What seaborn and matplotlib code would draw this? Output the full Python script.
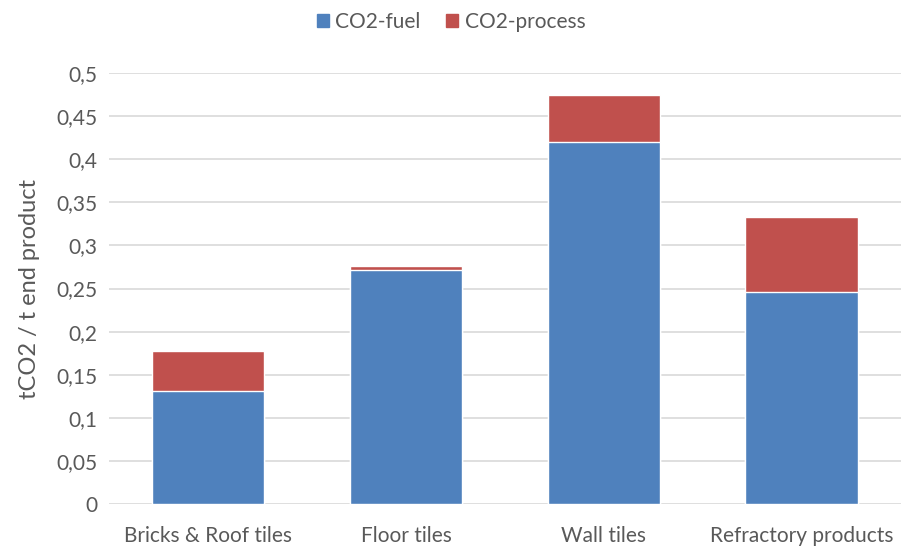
import matplotlib
matplotlib.use("Agg")
import matplotlib.pyplot as plt
import seaborn as sns
import numpy as np
import pandas as pd
from matplotlib.patches import Patch

categories = ["Bricks & Roof tiles", "Floor tiles", "Wall tiles", "Refractory products"]
co2_fuel = [0.131, 0.271, 0.420, 0.246]
co2_process = [0.047, 0.005, 0.054, 0.087]
y_ticks = [0, 0.05, 0.1, 0.15, 0.2, 0.25, 0.3, 0.35, 0.4, 0.45, 0.5]
y_tick_labels = ["0", "0,05", "0,1", "0,15", "0,2", "0,25", "0,3", "0,35", "0,4", "0,45", "0,5"]

BLUE = "#4F81BD"
RED = "#C0504D"
TEXT = "#595959"

sns.set_theme(style="white")
plt.rcParams["font.family"] = ["Lato", "DejaVu Sans"]

df = pd.DataFrame({
    "category": categories,
    "fuel": co2_fuel,
    "total": np.array(co2_fuel) + np.array(co2_process),
})

fig = plt.figure(figsize=(9.02, 5.47), dpi=100)
ax = fig.add_axes([0.1208, 0.0786, 0.878, 0.7879])

# Stacked bars: total height in red, fuel share drawn on top in blue
sns.barplot(data=df, x="category", y="total", color=RED, width=0.57,
            saturation=1, ax=ax, zorder=3)
sns.barplot(data=df, x="category", y="fuel", color=BLUE, width=0.57,
            saturation=1, ax=ax, zorder=4)

ax.set_ylim(0, 0.5)
ax.set_xlim(-0.5, len(categories) - 0.5)
ax.set_yticks(y_ticks)
ax.set_yticklabels(y_tick_labels)
ax.yaxis.grid(True, color="#D9D9D9", linewidth=1.2, zorder=0)
ax.set_axisbelow(True)
for s in ax.spines.values():
    s.set_visible(False)
ax.tick_params(axis="both", length=0, labelsize=15, colors=TEXT)
ax.tick_params(axis="y", pad=8)
ax.tick_params(axis="x", pad=16)
ax.set_xlabel("")
ax.set_ylabel("tCO2 / t end product", fontsize=17, color=TEXT, labelpad=12)

handles = [Patch(color=BLUE, label="CO2-fuel"), Patch(color=RED, label="CO2-process")]
fig.legend(handles=handles, loc="center", bbox_to_anchor=(0.5, 0.960), ncol=2,
           frameon=False, fontsize=15, handlelength=0.6, handleheight=0.6,
           handletextpad=0.3, columnspacing=1.2, labelcolor=TEXT)

fig.savefig("out.png", dpi=100)
